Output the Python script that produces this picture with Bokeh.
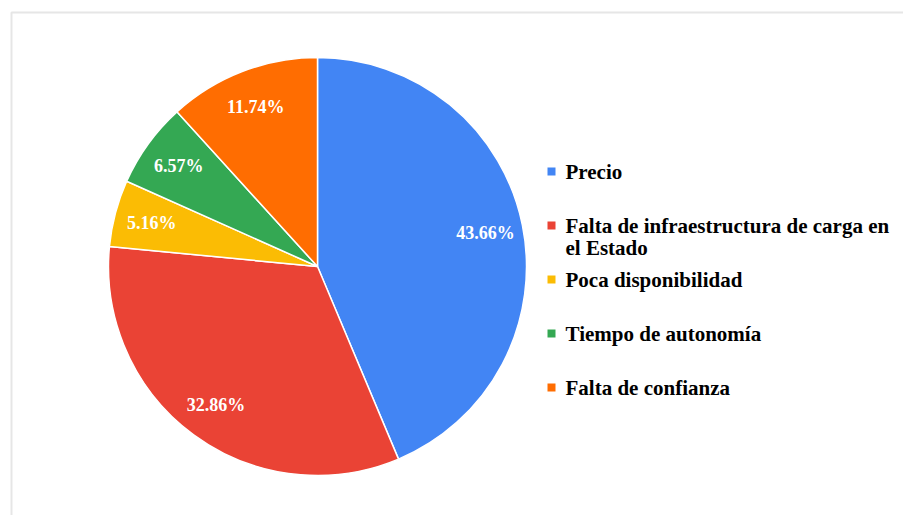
import math
from bokeh.plotting import figure
from bokeh.models import Range1d, ColumnDataSource
from bokeh.core.properties import value
from bokeh.embed import file_html
from bokeh.resources import INLINE

categories = ["Precio", "Falta de infraestructura de carga en\nel Estado", "Poca disponibilidad",
              "Tiempo de autonomía", "Falta de confianza"]
shares = [43.66, 32.86, 5.16, 6.57, 11.74]
colors = ["#4285F4", "#EA4335", "#FBBC04", "#34A853", "#FF6D01"]

W, H = 903, 515
cx, cy, R = 317, H - 266, 209
FONT = "'Liberation Serif', 'Times New Roman', 'DejaVu Serif', serif"

p = figure(width=W, height=H, output_backend="svg", toolbar_location=None,
           x_range=Range1d(0, W), y_range=Range1d(0, H), min_border=0)
p.axis.visible = False
p.grid.visible = False
p.outline_line_color = None
p.background_fill_color = "white"

# outer frame
p.line([11, 11, W + 5], [-5, H - 12, H - 12], line_color="#e6e6e6", line_width=2)

total = sum(shares)
starts, ends, lx, ly, labels = [], [], [], [], []
cum = 0.0
for s in shares:
    a0 = math.pi / 2 - 2 * math.pi * cum / total
    cum += s
    a1 = math.pi / 2 - 2 * math.pi * cum / total
    starts.append(a0)
    ends.append(a1)
    mid = (a0 + a1) / 2
    lx.append(cx + 0.82 * R * math.cos(mid))
    ly.append(cy + 0.82 * R * math.sin(mid))
    labels.append(f"{s:.2f}%")

src = ColumnDataSource(dict(start=starts, end=ends, color=colors))
p.wedge(x=cx, y=cy, radius=R, start_angle="start", end_angle="end", direction="clock",
        fill_color="color", line_color="white", line_width=1.5, source=src)

p.text(x=lx, y=ly, text=labels, text_color="white", text_font=value(FONT),
       text_font_style="bold", text_font_size="18px", text_align="center",
       text_baseline="middle")

# legend
row0, step, lh = H - 171, 54, 22
mx, my, tx, ty, tt = [], [], [], [], []
for i, c in enumerate(categories):
    y = row0 - step * i
    mx.append(551)
    my.append(y)
    for j, line in enumerate(c.split("\n")):
        tx.append(565)
        ty.append(y - lh * j)
        tt.append(line)
p.scatter(x=mx, y=my, marker="square", size=8, fill_color=colors, line_color=None)
p.text(x=tx, y=ty, text=tt, text_color="black", text_font=value(FONT),
       text_font_style="bold", text_font_size="21px", text_align="left",
       text_baseline="middle")

open("out.html", "w").write(file_html(p, INLINE))
